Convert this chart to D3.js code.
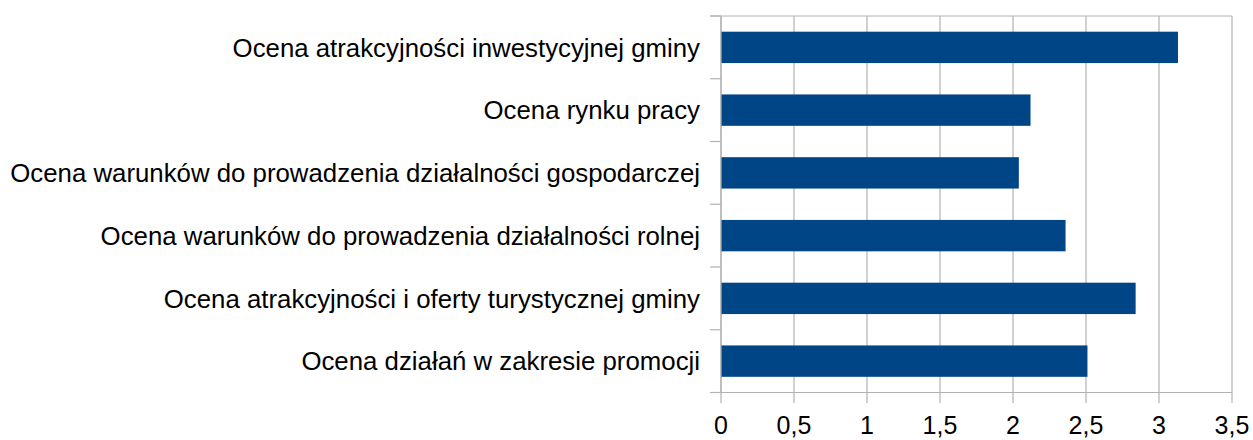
<!DOCTYPE html>
<html lang="pl">
<head>
<meta charset="utf-8">
<script src="https://cdn.jsdelivr.net/npm/d3@7"></script>
<style>
  html, body { margin: 0; padding: 0; background: #fff; }
  svg { display: block; }
  text { font-family: "Liberation Sans", Arial, sans-serif; fill: #000; }
</style>
</head>
<body>
<svg id="chart" width="1253" height="440"></svg>
<script>
// Categories, top to bottom
const categories = [
  "Ocena atrakcyjności inwestycyjnej gminy",
  "Ocena rynku pracy",
  "Ocena warunków do prowadzenia działalności gospodarczej",
  "Ocena warunków do prowadzenia działalności rolnej",
  "Ocena atrakcyjności i oferty turystycznej gminy",
  "Ocena działań w zakresie promocji"
];

// Mean ratings
const values = [3.13, 2.12, 2.04, 2.36, 2.84, 2.51];

// Value-axis ticks
const xTicks = [0, 0.5, 1, 1.5, 2, 2.5, 3, 3.5];

const svg = d3.select("#chart");

const plot = { left: 721, right: 1232, top: 16, bottom: 392.5 };

const x = d3.scaleLinear()
  .domain([0, 3.5])
  .range([plot.left, plot.right]);

const y = d3.scaleBand()
  .domain(categories)
  .range([plot.top, plot.bottom])
  .paddingInner(0.5)
  .paddingOuter(0.25);

// Polish decimal comma
const fmt = d => d3.format(".1~f")(d).replace(".", ",");

const gridColor = "#b3b3b3";

// Vertical grid lines (extend below the axis as tick marks)
svg.append("g")
  .selectAll("line")
  .data(xTicks)
  .join("line")
  .attr("x1", d => x(d)).attr("x2", d => x(d))
  .attr("y1", plot.top).attr("y2", plot.bottom + 10.5)
  .attr("stroke", gridColor)
  .attr("stroke-width", 1.2);

// Top border of the plot area
svg.append("line")
  .attr("x1", plot.left - 11).attr("x2", plot.right)
  .attr("y1", plot.top).attr("y2", plot.top)
  .attr("stroke", gridColor).attr("stroke-width", 1.2);

// Category boundary ticks on the left axis
const step = y.step();
const bounds = d3.range(categories.length + 1).map(i => plot.top + i * step);
svg.append("g")
  .selectAll("line")
  .data(bounds)
  .join("line")
  .attr("x1", plot.left - 11).attr("x2", plot.left)
  .attr("y1", d => d).attr("y2", d => d)
  .attr("stroke", gridColor)
  .attr("stroke-width", 1.2);

// Bars
svg.append("g")
  .selectAll("rect")
  .data(categories.map((c, i) => ({ c, v: values[i] })))
  .join("rect")
  .attr("x", x(0))
  .attr("y", d => y(d.c))
  .attr("width", d => x(d.v) - x(0))
  .attr("height", y.bandwidth())
  .attr("fill", "#004586");

// Axis lines
svg.append("line")
  .attr("x1", plot.left).attr("x2", plot.left)
  .attr("y1", plot.top).attr("y2", plot.bottom)
  .attr("stroke", gridColor).attr("stroke-width", 1.2);
svg.append("line")
  .attr("x1", plot.left - 11).attr("x2", plot.right)
  .attr("y1", plot.bottom).attr("y2", plot.bottom)
  .attr("stroke", gridColor).attr("stroke-width", 1.2);

// Value-axis labels
svg.append("g")
  .selectAll("text")
  .data(xTicks)
  .join("text")
  .attr("x", d => x(d))
  .attr("y", 434)
  .attr("text-anchor", "middle")
  .attr("font-size", 25)
  .text(d => fmt(d));

// Category labels
svg.append("g")
  .selectAll("text")
  .data(categories)
  .join("text")
  .attr("x", 700)
  .attr("y", d => y(d) + y.bandwidth() / 2)
  .attr("dy", "0.36em")
  .attr("text-anchor", "end")
  .attr("font-size", 25.8)
  .text(d => d);
</script>
</body>
</html>
